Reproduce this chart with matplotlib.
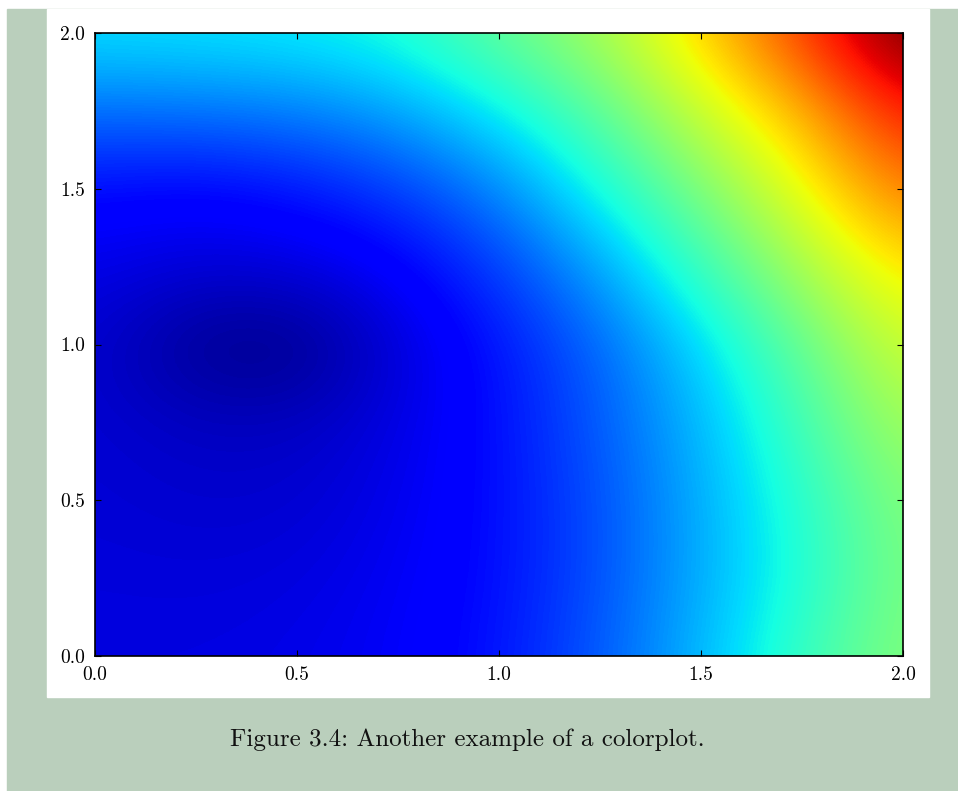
import numpy as np
import matplotlib
matplotlib.use('Agg')
import matplotlib.pyplot as plt
from matplotlib.patches import Rectangle

# Grid positions (both axes) and colour values (0 = darkest, 1 = max)
grid_x = [0.0, 0.25, 0.5, 0.75, 1.0, 1.25, 1.5, 1.75, 2.0]
grid_y = [0.0, 0.25, 0.5, 0.75, 1.0, 1.25, 1.5, 1.75, 2.0]

row_y000 = [0.085, 0.085, 0.090, 0.105, 0.140, 0.210, 0.300, 0.410, 0.500]
row_y025 = [0.080, 0.078, 0.082, 0.100, 0.135, 0.200, 0.290, 0.380, 0.490]
row_y050 = [0.075, 0.068, 0.070, 0.092, 0.135, 0.200, 0.290, 0.390, 0.500]
row_y075 = [0.072, 0.058, 0.058, 0.085, 0.135, 0.210, 0.300, 0.420, 0.540]
row_y100 = [0.070, 0.012, 0.004, 0.075, 0.140, 0.220, 0.330, 0.460, 0.590]
row_y125 = [0.090, 0.075, 0.080, 0.110, 0.180, 0.280, 0.410, 0.540, 0.660]
row_y150 = [0.130, 0.120, 0.140, 0.180, 0.250, 0.370, 0.490, 0.620, 0.770]
row_y175 = [0.230, 0.235, 0.245, 0.280, 0.350, 0.450, 0.580, 0.700, 0.870]
row_y200 = [0.340, 0.345, 0.355, 0.380, 0.460, 0.540, 0.670, 0.830, 1.000]

tick_vals = [0.0, 0.5, 1.0, 1.5, 2.0]
tick_labels = ['0.0', '0.5', '1.0', '1.5', '2.0']
caption = 'Figure 3.4: Another example of a colorplot.'

Z = np.array([row_y000, row_y025, row_y050, row_y075, row_y100,
              row_y125, row_y150, row_y175, row_y200])

fig = plt.figure(figsize=(9.58, 7.91), dpi=100)
fig.patch.set_facecolor('white')

# page background (green band) and white panel behind the plot
fig.add_artist(Rectangle((7 / 958, 0), 1 - 7 / 958, 782 / 791,
                         transform=fig.transFigure, color='#bacfbc', zorder=0))
fig.add_artist(Rectangle((47 / 958, 94 / 791), 882 / 958, 688 / 791,
                         transform=fig.transFigure, color='white', zorder=0))

ax = fig.add_axes([95 / 958, 135 / 791, 808 / 958, 623 / 791])
half = (grid_x[1] - grid_x[0]) / 2
ax.imshow(Z, cmap='jet', vmin=0, vmax=0.98, origin='lower', aspect='auto',
          interpolation='bicubic',
          extent=[grid_x[0] - half, grid_x[-1] + half, grid_y[0] - half, grid_y[-1] + half])
ax.set_xlim(0, 2)
ax.set_ylim(0, 2)

ax.set_xticks(tick_vals)
ax.set_yticks(tick_vals)
ax.set_xticklabels(tick_labels, fontfamily='cmr10', fontsize=14)
ax.set_yticklabels(tick_labels, fontfamily='cmr10', fontsize=14)
ax.tick_params(direction='in', top=True, right=True, length=4.5, width=0.8,
               color='black', pad=7)
for s in ax.spines.values():
    s.set_linewidth(1.2)
    s.set_color('black')

fig.text(467 / 958, 1 - 740 / 791, caption, fontfamily='cmr10', fontsize=18,
         ha='center', va='center', color='#111111')

fig.savefig('out.png', dpi=100)
